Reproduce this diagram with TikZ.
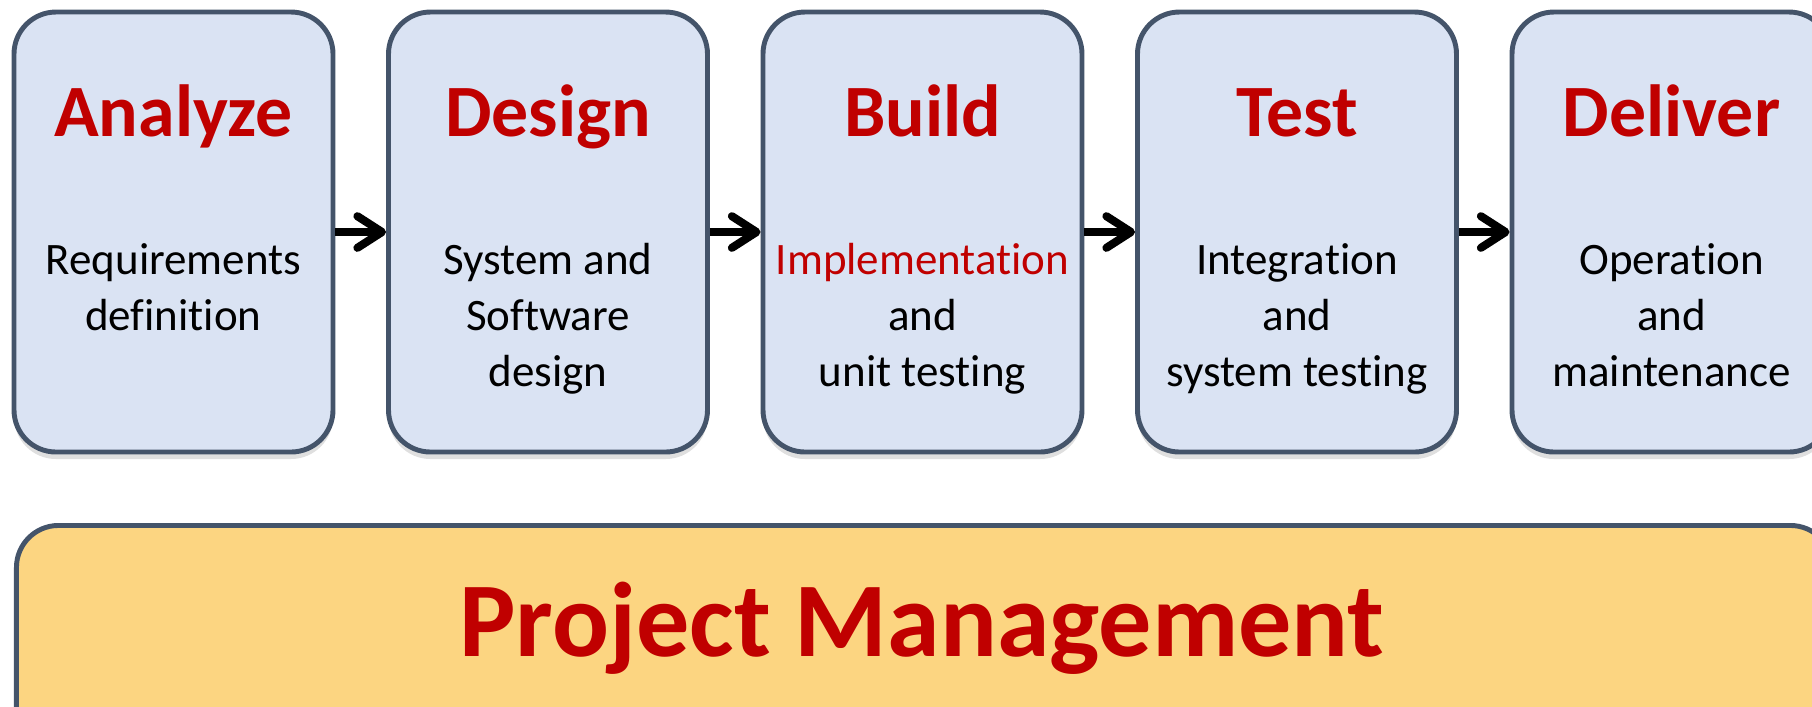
\documentclass[tikz,border=0pt]{standalone}
\usepackage{fontspec}
\setmainfont{Carlito}[Ligatures=NoCommon]
\usetikzlibrary{arrows.meta,positioning,shadows}
\definecolor{boxline}{HTML}{44546A}
\definecolor{boxfill}{HTML}{DAE3F3}
\definecolor{pmfill}{HTML}{FCD581}
\definecolor{phasered}{HTML}{C00000}
\begin{document}
\begin{tikzpicture}[phase node/.style={rectangle,rounded corners=0.42cm,draw=boxline,fill=boxfill,line width=1.4pt,minimum width=3.19cm,minimum height=4.40cm,inner sep=0pt,drop shadow={opacity=0.25,shadow xshift=0pt,shadow yshift=-0.7mm}},
  title/.style={font=\fontsize{21}{25}\selectfont\bfseries,text=phasered,anchor=base,inner sep=0pt},
  body/.style={font=\fontsize{12.8}{16}\selectfont,align=center,anchor=base,inner sep=0pt},
  flow/.style={line width=2.3pt,-{Straight Barb[length=7pt,width=9pt,round]}},
  node distance=3.745cm]
    \useasboundingbox (0,0) rectangle (18.12,-7.06);
    \clip (0,0) rectangle (18.12,-7.06);

    \node[phase node] (A) at (1.735,-2.32) {};
    \node[phase node] (B) [right of=A] {};
    \node[phase node] (C) [right of=B] {};
    \node[phase node] (D) [right of=C] {};
    \node[phase node] (E) [right of=D] {};

    \node[title] (A title) at ([yshift=-1.27cm]A.north) {Analyze};
    \node[title] (B title) at ([yshift=-1.27cm]B.north) {Design};
    \node[title] (C title) at ([yshift=-1.27cm]C.north) {Build};
    \node[title] (D title) at ([yshift=-1.27cm]D.north) {Test};
    \node[title] (E title) at ([yshift=-1.27cm]E.north) {Deliver};

    \node[body] (A text) at ([yshift=-3.21cm]A.north) {Requirements\\definition};
    \node[body] (B text) at ([yshift=-3.77cm]B.north) {System and\\Software\\design};
    \node[body] (C text) at ([yshift=-3.77cm]C.north) {\textcolor{phasered}{Implementation}\\and\\unit testing};
    \node[body] (D text) at ([yshift=-3.77cm]D.north) {Integration\\and\\system testing};
    \node[body] (E text) at ([yshift=-3.77cm]E.north) {Operation\\and\\maintenance};

    \draw[flow] (A) -- (B);
    \draw[flow] (B) -- (C);
    \draw[flow] (C) -- (D);
    \draw[flow] (D) -- (E);

    \node[phase node,fill=pmfill,minimum width=18.16cm,minimum height=3cm,anchor=north west] (PM) at (0.14,-5.23) {};
    \node[title,font=\fontsize{30.2}{36}\selectfont\bfseries] (PM title) at (9.22,-6.56) {Project Management};
\end{tikzpicture}
\end{document}
